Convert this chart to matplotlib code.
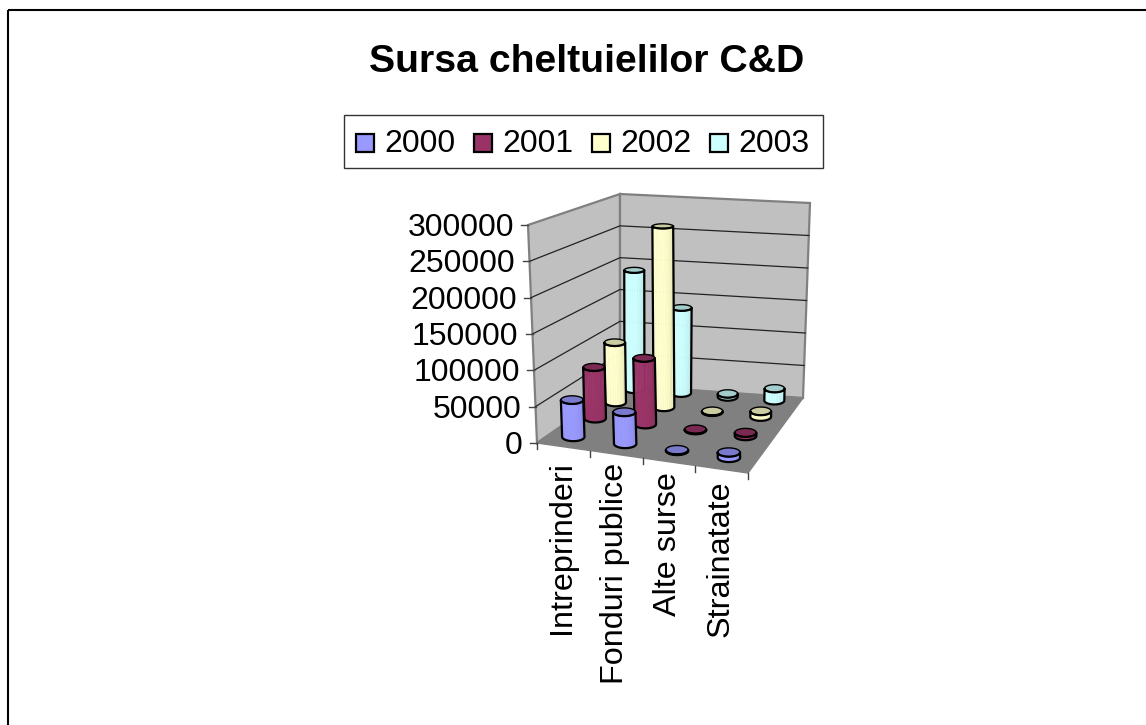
"""Sursa cheltuielilor C&D: 3D cylinder chart drawn with a small projection."""
import numpy as np
import matplotlib

matplotlib.use("Agg")
import matplotlib.pyplot as plt
from matplotlib.colors import to_rgb
from matplotlib.patches import Polygon, Rectangle

plt.rcParams["font.family"] = ["Liberation Sans", "DejaVu Sans"]

categories = ["Intreprinderi", "Fonduri publice", "Alte surse", "Strainatate"]
years = ["2000", "2001", "2002", "2003"]
values_2000 = [51000, 43000, 1000, 7000]
values_2001 = [73000, 93000, 1000, 4500]
values_2002 = [88500, 265000, 1000, 8000]
values_2003 = [183000, 130000, 4500, 18000]
series = [values_2000, values_2001, values_2002, values_2003]
colors = ["#9999FF", "#993366", "#FFFFCC", "#CCFFFF"]
y_ticks = [0, 50000, 100000, 150000, 200000, 250000, 300000]
Y_MAX = 300000

# box corners in pixels, keyed by (right, back, top)
CORNERS = {
    (0, 0, 0): (537, 443), (1, 0, 0): (748, 473),
    (0, 1, 0): (620, 385), (1, 1, 0): (803, 398),
    (0, 0, 1): (528, 225), (1, 0, 1): (742, 236),
    (0, 1, 1): (620, 194), (1, 1, 1): (810, 203),
}
# the floor rows are not evenly spaced in the picture: nudge per series row
ROW_SHIFT = [(0, -2.5), (2, -6), (2.5, -7), (1.5, -5)]


def project(u, v, h):
    """Trilinear map from box coords (0..1 on each side) to pixels."""
    x, y = 0.0, 0.0
    for (a, b, c), (px, py) in CORNERS.items():
        w = (u if a else 1 - u) * (v if b else 1 - v) * (h if c else 1 - h)
        x, y = x + w * px, y + w * py
    return np.array([x, y])


def shade(color, f):
    return tuple(min(1.0, c * f) for c in to_rgb(color))


def cylinder(ax, i, j, value, color):
    uc, vc = (i + 0.5) / 4, (j + 0.5) / 4
    h = value / Y_MAX
    shift = np.array(ROW_SHIFT[j])
    c_bot, c_top = project(uc, vc, 0) + shift, project(uc, vc, h) + shift
    sx = 11.4 - 1.6 * vc

    def ring(center, frac):
        sy = 4.5 - 0.6 * vc - 2.0 * frac
        t = np.linspace(0, 2 * np.pi, 73)[:-1]
        return np.column_stack([center[0] + sx * np.cos(t), center[1] + sy * np.sin(t)])

    bot, top = ring(c_bot, 0.0), ring(c_top, h)
    # t runs 0..pi over the lower half (y grows downward)
    fb, ft = bot[:37], top[:37]
    n = 18
    zorder = 10 + (3 - j) * 10 + i
    idx = np.arange(len(fb))
    sb = np.linspace(0, len(fb) - 1, n + 1)
    for k in range(n):
        pos = 1 - (k + 0.5) / n  # 0 at the left side, 1 at the right
        f = 0.97 + 0.05 * np.sin(pos * np.pi) - 0.13 * pos ** 3
        quad = np.array([
            [np.interp(sb[k], idx, fb[:, d]) for d in (0, 1)],
            [np.interp(sb[k + 1], idx, fb[:, d]) for d in (0, 1)],
            [np.interp(sb[k + 1], idx, ft[:, d]) for d in (0, 1)],
            [np.interp(sb[k], idx, ft[:, d]) for d in (0, 1)],
        ])
        ax.add_patch(Polygon(quad, closed=True, fc=shade(color, f), ec=shade(color, f),
                             lw=0.4, zorder=zorder))
    ax.add_patch(Polygon(np.vstack([fb, ft[::-1]]), closed=True, fill=False, ec="black",
                         lw=1.6, joinstyle="round", zorder=zorder + 0.2))
    ax.add_patch(Polygon(top, closed=True, fc=shade(color, 0.8), ec="black", lw=1.0,
                         zorder=zorder + 0.1))


fig = plt.figure(figsize=(11.46, 7.25), dpi=100)
ax = fig.add_axes([0, 0, 1, 1])
ax.set_xlim(0, 1146)
ax.set_ylim(725, 0)
ax.axis("off")

# picture frame
ax.add_patch(Rectangle((8, 10), 1150, 730, fill=False, ec="black", lw=1.5, zorder=1))

ax.text(587, 62, "Sursa cheltuielilor C&D", ha="center", va="center",
        fontsize=28.3, fontweight="bold")

# legend
ax.add_patch(Rectangle((344, 115), 479, 53, fc="white", ec="#333333", lw=1, zorder=2))
for x0, year, c in zip([356, 474, 592, 710], years, colors):
    ax.add_patch(Rectangle((x0 - 0.5, 133.5), 18, 18, fc=c, ec="black", lw=1.6, zorder=3))
    ax.text(x0 + 28.5, 144, year, ha="left", va="center", fontsize=23, zorder=3)

# walls and floor
wall_c, floor_c, edge_c = "#C0C0C0", "#808080", "#808080"
ax.add_patch(Polygon([project(0, 0, 0), project(0, 1, 0), project(0, 1, 1), project(0, 0, 1)],
                     fc=wall_c, ec=edge_c, lw=1.6, zorder=3))
ax.add_patch(Polygon([project(0, 1, 0), project(1, 1, 0), project(1, 1, 1), project(0, 1, 1)],
                     fc=wall_c, ec=edge_c, lw=1.6, zorder=3))
ax.add_patch(Polygon([project(0, 0, 0), project(1, 0, 0), project(1, 1, 0), project(0, 1, 0)],
                     fc=floor_c, ec=floor_c, lw=1, zorder=4))

# gridlines and value axis
for val in y_ticks:
    h = val / Y_MAX
    a, b, c = project(0, 0, h), project(0, 1, h), project(1, 1, h)
    if 0 < val < Y_MAX:
        ax.plot([a[0], b[0], c[0]], [a[1], b[1], c[1]], color="#222222", lw=0.9, zorder=5)
    ax.plot([a[0] - 7, a[0]], [a[1], a[1]], color="#444444", lw=1, zorder=5)
    ax.text(a[0] - 14, a[1] + 3, str(val), ha="right", va="center", fontsize=23, zorder=5)

# category axis
for k in range(5):
    p = project(k / 4, 0, 0)
    ax.plot([p[0], p[0]], [p[1], p[1] + 6], color="#444444", lw=1, zorder=5)
label_tops = [461, 463, 472, 480]
for i, name in enumerate(categories):
    p = project((i + 0.5) / 4, 0, 0)
    ax.text(p[0] - 1, label_tops[i], name, rotation=90, ha="center", va="top",
            fontsize=23.3, zorder=5)

for j in range(3, -1, -1):
    for i in range(4):
        cylinder(ax, i, j, series[j][i], colors[j])

fig.savefig("out.png", dpi=100)
